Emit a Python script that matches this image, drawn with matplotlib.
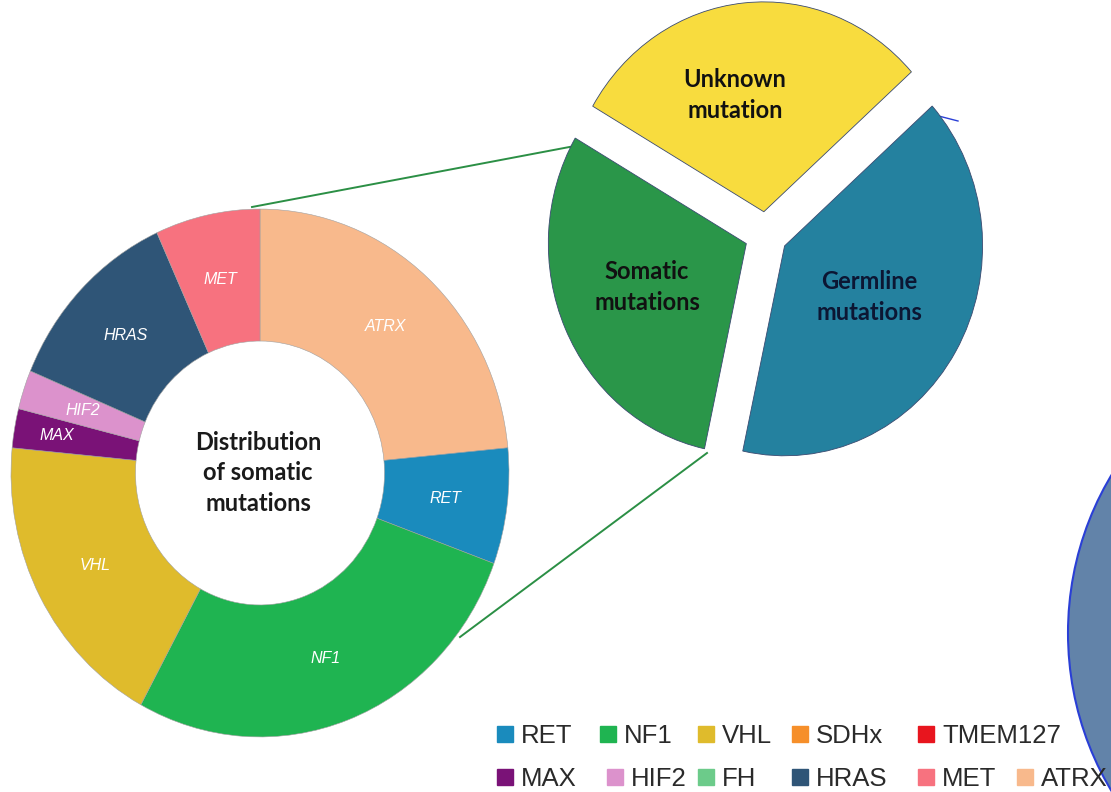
import numpy as np
import matplotlib.pyplot as plt
from matplotlib.patches import Circle

plt.rcParams['font.family'] = ['Liberation Sans', 'DejaVu Sans']

# distribution of somatic mutations (share of ring, %)
genes = ["ATRX", "RET", "NF1", "VHL", "MAX", "HIF2", "HRAS", "MET"]
gene_share = [23.5, 7.1, 27.4, 18.6, 2.4, 2.4, 11.9, 6.8]

# mutation types (%)
mut_types = ["Unknown\nmutation", "Germline\nmutations", "Somatic\nmutations"]
mut_share = [30, 40, 30]

# legend entries
legend_row1 = ["RET", "NF1", "VHL", "SDHx", "TMEM127"]
legend_row2 = ["MAX", "HIF2", "FH", "HRAS", "MET", "ATRX"]

gene_colors = {
    "RET": "#1a8bbd", "NF1": "#1fb451", "VHL": "#dfbb2c", "SDHx": "#f68f2a",
    "TMEM127": "#e8151e", "MAX": "#7a1277", "HIF2": "#dc92cc", "FH": "#6ccb8a",
    "HRAS": "#2f5577", "MET": "#f7727f", "ATRX": "#f8b98c",
}
mut_colors = ["#f8dc3e", "#24819f", "#2a9649"]
mut_text_colors = ["#111111", "#0c1633", "#111111"]

W, H = 1111, 792
S = 1.06  # picture is a bit stretched vertically


def px(x, y):
    # pixel position -> data coords
    return x, (H - y) / S


fig = plt.figure(figsize=(W / 100, H / 100), dpi=100)
ax = fig.add_axes([0, 0, 1, 1])

# connector lines from the ring to the somatic wedge
for (x0, y0), (x1, y1) in [((252, 207), (580, 145)), ((460, 637), (707, 453))]:
    a, b = px(x0, y0), px(x1, y1)
    ax.plot([a[0], b[0]], [a[1], b[1]], color="#2b8f45", lw=1.4, zorder=1)
a, b = px(927, 113), px(958, 121)
ax.plot([a[0], b[0]], [a[1], b[1]], color="#2a3fd6", lw=1, zorder=1)

# donut
ring_c = px(260, 473)
wedges, texts = ax.pie(
    gene_share, radius=249, center=ring_c, startangle=90, counterclock=False,
    colors=[gene_colors[g] for g in genes], labels=genes, labeldistance=0.75,
    wedgeprops=dict(width=124.5, edgecolor="#a0a0a0", linewidth=0.4),
    textprops=dict(color="white", fontstyle="italic", fontsize=11.5),
)
for t in texts:
    t.set_ha("center")
    t.set_va("center")
# MAX label sits further out than its thin wedge
w = wedges[genes.index("MAX")]
th = np.deg2rad((w.theta1 + w.theta2) / 2)
texts[genes.index("MAX")].set_position(
    (ring_c[0] + 0.83 * 249 * np.cos(th), ring_c[1] + 0.83 * 249 * np.sin(th)))

ax.text(*px(258, 473), "Distribution\nof somatic\nmutations", ha="center", va="center",
        fontsize=17, fontweight="bold", family="Lato", color="#1a1a1a", linespacing=1.4)

# exploded pie of mutation types
ax.pie(
    mut_share, radius=198, center=(766, 526), startangle=149.8, counterclock=False,
    colors=mut_colors, explode=[21.5] * 3,
    wedgeprops=dict(edgecolor="#3a4a70", linewidth=0.6),
)
label_pos = [(735, 95), (869, 297), (647, 287)]
for name, (lx, ly), tc in zip(mut_types, label_pos, mut_text_colors):
    ax.text(*px(lx, ly), name, ha="center", va="center", fontsize=17,
            fontweight="bold", family="Lato", color=tc, linespacing=1.45)

# partial circle at the right edge
ax.add_patch(Circle(px(1345, 633), 277, facecolor="#6283a9", edgecolor="#2a3fd6", lw=1.5))

# legend rows
row1_x = [505, 608, 706, 800, 926]
row2_x = [505, 615, 706, 800, 926, 1025]
for names, xs, ybase in [(legend_row1, row1_x, 743), (legend_row2, row2_x, 786)]:
    for name, x in zip(names, xs):
        sx, sy = px(x, ybase - 9)
        ax.plot([sx], [sy], marker="s", ms=11.5, color=gene_colors[name], ls="")
        ax.text(*px(x + 16, ybase), name, ha="left", va="baseline", fontsize=18.5,
                color="#2a2a2a")

ax.set_xlim(0, W)
ax.set_ylim(0, H / S)
ax.set_aspect("auto")
ax.axis("off")

fig.savefig("out.png", dpi=100)
